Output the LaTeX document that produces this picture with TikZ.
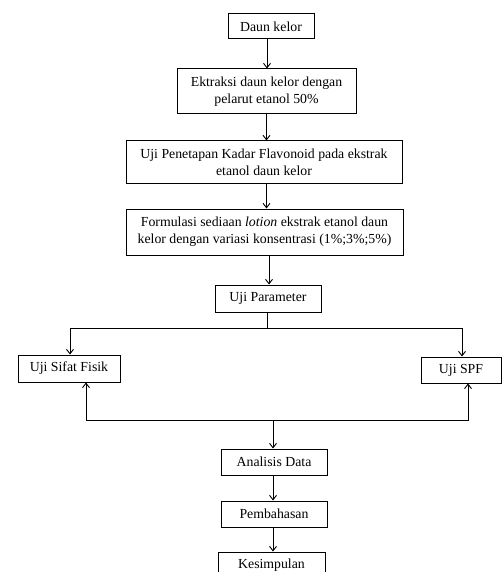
\documentclass[tikz,border=0pt]{standalone}
\usepackage{fontspec}
\setmainfont{Liberation Serif}
\usetikzlibrary{arrows.meta,calc}

\tikzset{
	kotak/.style={draw, line width=1pt, align=center, inner sep=1pt},
	panah/.style={-{Straight Barb[length=4.5pt,width=7pt]}, line width=0.9pt},
	garis/.style={line width=0.9pt}
}

\begin{document}
\begin{tikzpicture}[x=1pt,y=-1pt,font=\fontsize{13.8}{17}\selectfont]
	
	\def\pagew{502}
	\def\pageh{572}
	\def\yCabang{328}
	\def\yGabung{420}
	
	\useasboundingbox (0,0) rectangle (\pagew,\pageh);
	\clip (0,0) rectangle (\pagew,\pageh);
	
	\node[kotak, minimum width=86pt, minimum height=25pt] (daun) at (271,26.5) {Daun kelor};
	\node[kotak, minimum width=179pt, minimum height=45pt] (ekstraksi) at (266.5,91.5)
		{Ektraksi daun kelor dengan\\pelarut etanol 50\%};
	\node[kotak, minimum width=276pt, minimum height=42pt] (flavonoid) at (264,162)
		{Uji Penetapan Kadar Flavonoid pada ekstrak\\etanol daun kelor};
	\node[kotak, minimum width=277pt, minimum height=46pt] (formulasi) at (264.5,232)
		{Formulasi sediaan \textit{lotion} ekstrak etanol daun\\kelor dengan variasi konsentrasi (1\%;3\%;5\%)};
	\node[kotak, minimum width=106pt, minimum height=27pt] (parameter) at (268,298.5) {Uji Parameter};
	
	\node[kotak, minimum width=102pt, minimum height=27pt] (fisik) at (69,368.5) {Uji Sifat Fisik};
	\node[kotak, minimum width=80pt, minimum height=26pt] (spf) at (461,370) {Uji SPF};
	
	\node[kotak, minimum width=106pt, minimum height=26pt] (analisis) at (274,462) {Analisis Data};
	\node[kotak, minimum width=106pt, minimum height=26pt] (bahas) at (274,514) {Pembahasan};
	\node[kotak, minimum width=107pt, minimum height=26pt] (simpul) at (271.5,565) {Kesimpulan};
	
	% alur utama
	\draw[panah] ([xshift=-4pt]daun.south) -- ([xshift=-4pt]daun.south |- ekstraksi.north);
	\draw[panah] (ekstraksi.south) -- (ekstraksi.south |- flavonoid.north);
	\draw[panah] ([xshift=2.5pt]flavonoid.south) -- ([xshift=2.5pt]flavonoid.south |- formulasi.north);
	\draw[panah] ([xshift=4.5pt]formulasi.south) -- ([xshift=4.5pt]formulasi.south |- parameter.north);
	
	% cabang ke uji
	\coordinate (cabang) at (267,\yCabang);
	\draw[garis] ([xshift=-1pt]parameter.south) -- (cabang);
	\draw[panah] (cabang) -| ([xshift=1pt]fisik.north);
	\draw[panah] (cabang) -| ([xshift=1pt]spf.north);
	
	% gabung ke analisis
	\coordinate (gabung) at (273,\yGabung);
	\draw[panah] (gabung) -| ([xshift=17pt]fisik.south);
	\draw[panah] (gabung) -| ([xshift=7pt]spf.south);
	\draw[panah] (gabung) -- (gabung |- analisis.north);
	
	\draw[panah] ([xshift=-1pt]analisis.south) -- ([xshift=-1pt]analisis.south |- bahas.north);
	\draw[panah] ([xshift=-1pt]bahas.south) -- ([xshift=-1pt]bahas.south |- simpul.north);
\end{tikzpicture}
\end{document}
